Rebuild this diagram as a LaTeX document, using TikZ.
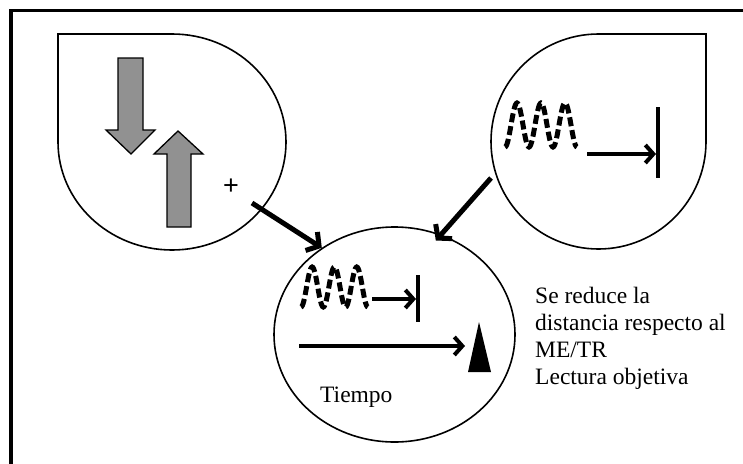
\documentclass[tikz,border=0pt]{standalone}
\usepackage{fontspec}
\setmainfont{Liberation Serif}
\newfontfamily\plusfont{Liberation Sans}
\usetikzlibrary{arrows.meta,shapes.geometric}
\definecolor{arrowgray}{HTML}{919191}
\tikzset{
  frameline/.style={line width=3.5pt},
  bubble/.style={draw=black, line width=1.6pt, fill=white, line join=miter},
  blockarrow/.style={draw=black, line width=1.3pt, fill=arrowgray, line join=miter},
  flow/.style={line width=5pt, -{Straight Barb[length=9pt,width=22pt]}},
  shortarrow/.style={line width=4pt, -{Straight Barb[length=8pt,width=18pt]}},
  stopbar/.style={line width=4pt},
  wave/.style={line width=5pt, dash pattern=on 9pt off 4pt},
  label/.style={font=\fontsize{23.5}{27}\selectfont, inner sep=0pt},
}
\begin{document}
\begin{tikzpicture}[x=1pt,y=-1pt]
\clip (0,0) rectangle (743,463);
% outer frame (runs past the right and bottom edges)
\draw[frameline] (11,10.5) rectangle (800,520);

% left bubble: rounded drop with a square top-left corner
\path[bubble] (58,142) -- (58,34) -- (172,34)
  arc[start angle=-90,end angle=180,x radius=114,y radius=108] -- cycle;
% opposing block arrows
\path[blockarrow] (118,58) -- (143,58) -- (143,130) -- (155,130) -- (131,154)
  -- (106,130) -- (118,130) -- cycle;
\path[blockarrow] (167,227) -- (191,227) -- (191,154) -- (203,154) -- (178,131)
  -- (154,154) -- (167,154) -- cycle;
\node[inner sep=0pt] (plus) at (231,187) {\plusfont\fontsize{27}{30}\selectfont +};
\coordinate (leftout) at (252,203);

% right bubble: rounded drop with a square top-right corner
\path[bubble] (706,141.5) -- (706,34) -- (598.5,34)
  arc[start angle=-90,end angle=-360,radius=107.5] -- cycle;
\draw[wave] plot[domain=0:3,samples=91,smooth] ({505+24*\x},{125+22*cos(360*\x)});
\coordinate (rarrs) at (587,154);
\coordinate (rbar) at (656,154);
\draw[shortarrow] (rarrs) -- (rbar);
\draw[stopbar] (658,107) -- (658,178);
\coordinate (rightout) at (491,178);

% bottom circle
\node[ellipse, draw, line width=1.6pt, fill=white, minimum width=241pt,
      minimum height=215pt, inner sep=0pt] (tiempo) at (394.5,334.5) {};
\draw[wave] plot[domain=0:3,samples=91,smooth] ({301+22.3*\x},{287+20*cos(360*\x)});
\coordinate (barrs) at (372,299);
\coordinate (bbar) at (416,299);
\draw[shortarrow] (barrs) -- (bbar);
\draw[stopbar] (418,275) -- (418,322);
\coordinate (longs) at (299,346);
\coordinate (longe) at (465,346);
\draw[shortarrow] (longs) -- (longe);
\fill (479,322) -- (491,372) -- (468,372) -- cycle;
\node[label, anchor=base west] (tlabel) at (320,402) {Tiempo};

% connectors into the bottom circle
\draw[flow] (leftout) -- (tiempo.130.7);
\draw[flow, shorten >=-8pt] (rightout) -- (tiempo.65.7);

% side note
\node[label, anchor=north west, align=left] (note) at (535,287)
  {Se reduce la\\distancia respecto al\\ME/TR\\Lectura objetiva};
\end{tikzpicture}
\end{document}
